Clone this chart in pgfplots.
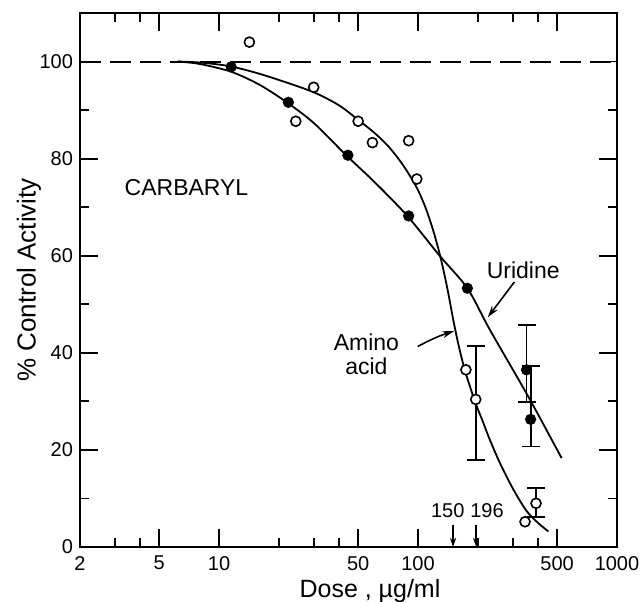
\documentclass[border=0pt]{standalone}
\usepackage{fontspec}
\setmainfont{Liberation Sans}
\usepackage{pgfplots}
\pgfplotsset{compat=1.18}
\usetikzlibrary{arrows.meta}

\begin{document}
\begin{tikzpicture}
\begin{axis}[
  scale only axis,
  width=268.5pt, height=267pt,
  xmode=log, xmin=2, xmax=1000, ymin=0, ymax=110,
  xtick={2,5,10,50,100,500,1000},
  xticklabels={2,5,10,50,100,500,1000},
  minor xtick={3,4,20,30,40,200,300,400},
  ytick={0,20,40,60,80,100},
  minor ytick={10,30,50,70,90},
  tick align=inside, tick pos=both,
  major tick length=9pt, minor tick length=4.5pt,
  axis line style={line width=1pt},
  every tick/.style={black, line width=0.9pt},
  /pgf/number format/assume math mode=true,
  tick label style={font=\fontsize{10}{12}\selectfont},
  xticklabel style={yshift=-1pt},
  xlabel={Dose , µg/ml}, ylabel={\% Control Activity},
  x label style={font=\fontsize{12.5}{14}\selectfont, at={(axis description cs:0.54,0)}, anchor=center, yshift=-22pt},
  y label style={font=\fontsize{13}{15}\selectfont, at={(axis description cs:-0.095,0.5)}, anchor=center},
  clip=false,
]
% 100% control line
\addplot[black, line width=1pt, dash pattern=on 10.5pt off 4.5pt] coordinates {(2,100) (1000,100)};

% Amino acid curve
\addplot[black, line width=0.9pt, smooth] coordinates {
 (6.2,100) (8,99.8) (11.1,99.1) (15,97.8) (20,96.2) (29.8,93.7) (40,91.0) (50,88.0)
 (60,85.4) (70,82.8) (80,79.9) (90,76.8) (100,73.5) (110,69.5) (120,64.8) (130,59.5)
 (140,53.5) (150,47) (160,41.5) (172,36.4) (185,32.3) (195,29.5) (210,26.2) (230,22)
 (260,17) (300,12) (350,7.5) (400,5) (452,3.2)};

% Uridine curve
\addplot[black, line width=0.9pt, smooth] coordinates {
 (6.2,100) (8,99.5) (11.5,97.9) (16,95.2) (21.9,91.6) (30,87.3) (43.8,80.6) (60,75.3)
 (87.9,68.3) (129,59.9) (177,53.3) (230,44.7) (358,31.0) (527,18.3)};

% Uridine points (filled)
\addplot[only marks, mark=*, mark size=2.6pt, black] coordinates {
 (11.5,98.9) (22.3,91.6) (44.4,80.7) (89.7,68.2) (177,53.3)};
\addplot[only marks, mark=*, mark size=2.6pt, black,
  error bars/.cd, y dir=both, y explicit,
  error mark options={rotate=90, mark size=4.5pt, line width=0.9pt},
  error bar style={line width=0.9pt}]
  table[x=x, y=y, y error plus=ep, y error minus=em] {
x y ep em
351 36.5 9.2 6.7
368 26.3 11.0 5.6
};

% Amino acid points (open)
\addplot[only marks, mark=*, mark size=2.5pt, black, mark options={fill=white, line width=0.8pt}] coordinates {
 (14.2,104.0) (24.3,87.7) (29.9,94.7) (50,87.7) (59,83.3) (89.7,83.7) (98.6,75.8)
 (174,36.5) (345,5.2)};
\addplot[only marks, mark=*, mark size=2.5pt, black, mark options={fill=white, line width=0.8pt},
  error bars/.cd, y dir=both, y explicit,
  error mark options={rotate=90, mark size=4.6pt, line width=0.9pt},
  error bar style={line width=0.9pt}]
  table[x=x, y=y, y error plus=ep, y error minus=em] {
x y ep em
195 30.4 11.0 12.5
392 9.0 3.1 2.8
};

% Annotations
\node[font=\fontsize{11.5}{13}\selectfont] at (axis cs:6.86,74.1) {CARBARYL};
\node[font=\fontsize{11.5}{13}\selectfont] at (axis cs:338,57.0) {Uridine};
\node[font=\fontsize{11.5}{13}\selectfont] at (axis cs:55,42.1) {Amino};
\node[font=\fontsize{11.5}{13}\selectfont] at (axis cs:55,37.3) {acid};
\draw[line width=0.8pt, -{Stealth[length=6pt, width=3.5pt]}] (axis cs:305,54.6) -- (axis cs:224,47.3);
\draw[line width=0.8pt, -{Stealth[length=6pt, width=3.5pt]}] (axis cs:99.6,41.3) to[bend left=5] (axis cs:152,44.5);

\node[font=\fontsize{10}{12}\selectfont] at (axis cs:141,7.5) {150};
\node[font=\fontsize{10}{12}\selectfont] at (axis cs:222,7.5) {196};
\draw[line width=0.8pt, -{Stealth[length=4.5pt, width=3pt]}] (axis cs:150,4.6) -- (axis cs:150,0);
\draw[line width=0.8pt, -{Stealth[length=4.5pt, width=3pt]}] (axis cs:196,4.6) -- (axis cs:196,0);
\end{axis}
\pgfresetboundingbox
\path[use as bounding box] ([shift={(-40pt,-27pt)}]current axis.south west) rectangle ([shift={(13pt,6.5pt)}]current axis.north east);
\end{tikzpicture}
\end{document}
